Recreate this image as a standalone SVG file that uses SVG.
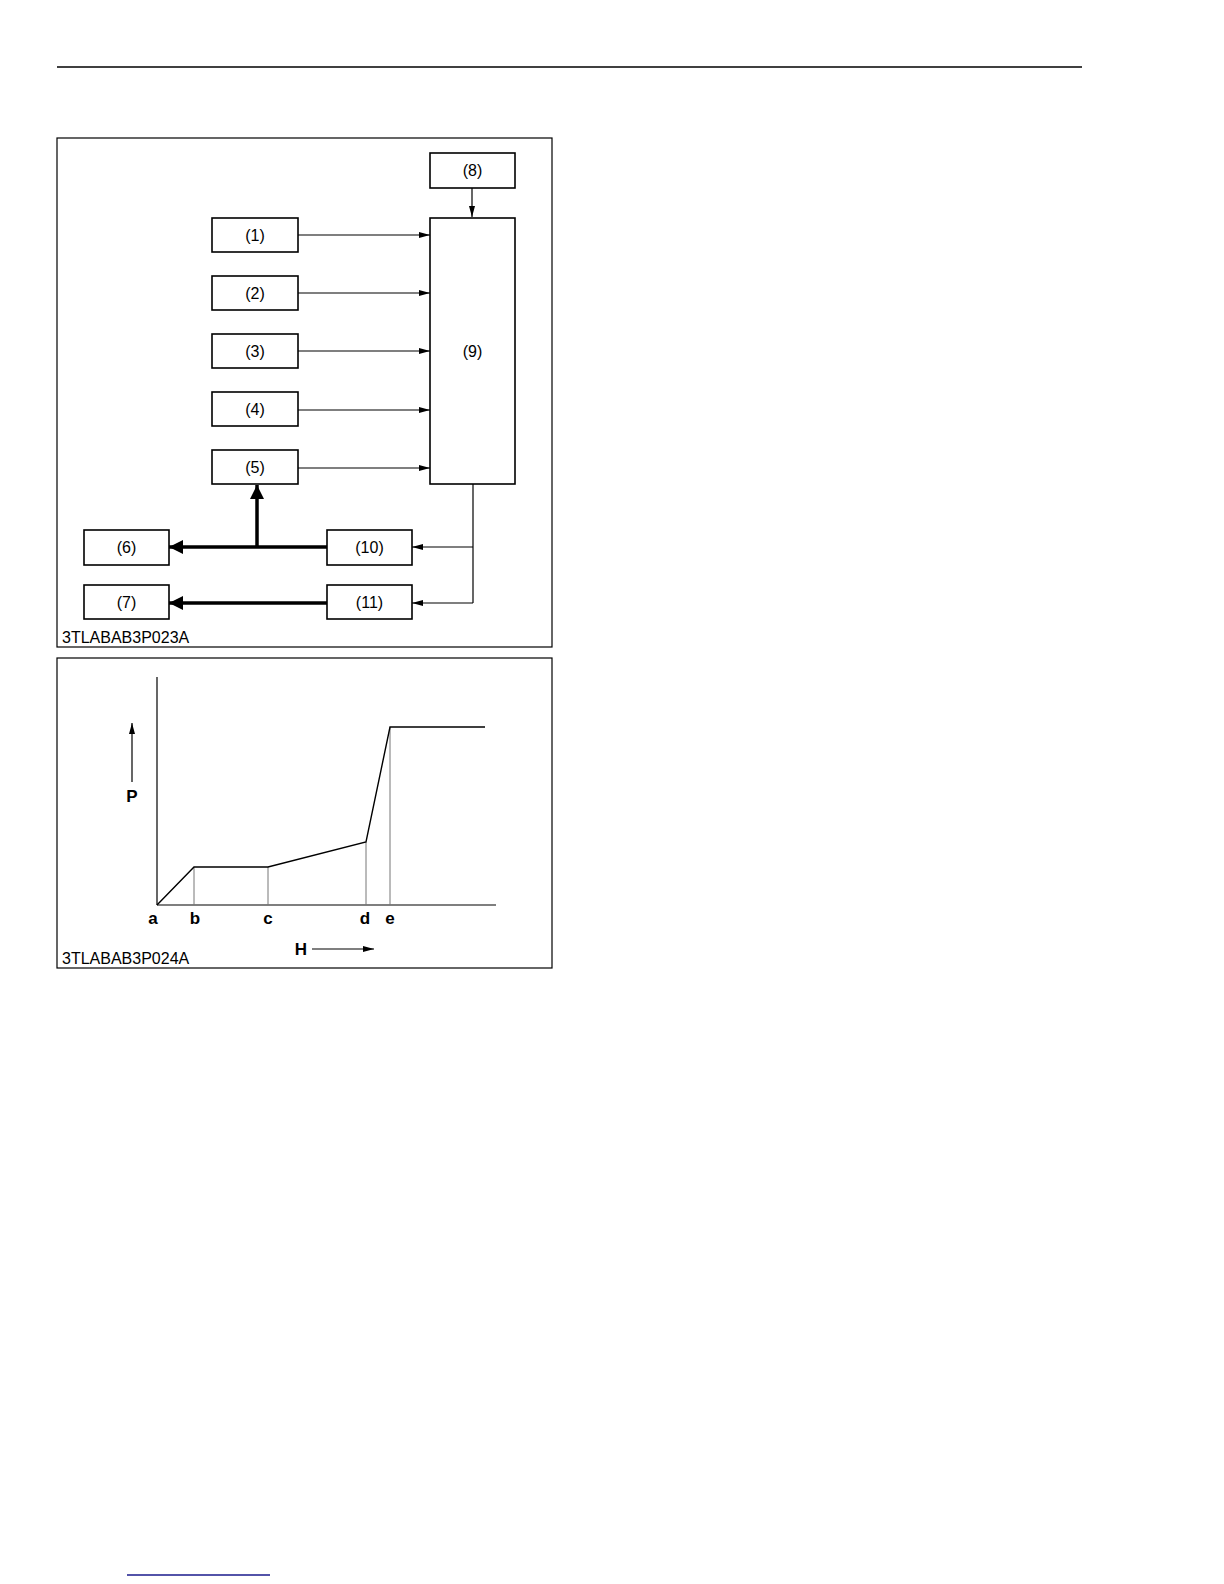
<svg xmlns="http://www.w3.org/2000/svg" width="1224" height="1584" viewBox="0 0 1224 1584">
<defs>
<style>
.box{fill:#fff;stroke:#000;stroke-width:1.6}
.frame{fill:none;stroke:#000;stroke-width:1.2}
.lbl{font-family:"Liberation Sans",Arial,sans-serif;font-size:16px;text-anchor:middle;fill:#000}
.code{font-family:"Liberation Sans",Arial,sans-serif;font-size:16px;fill:#000}
.ax{font-family:"Liberation Sans",Arial,sans-serif;font-size:17px;font-weight:bold;text-anchor:middle;fill:#000}
.thin{fill:none;stroke:#000;stroke-width:1.2}
.thick{fill:none;stroke:#000;stroke-width:3.5}
.grid{fill:none;stroke:#777;stroke-width:1}
</style>
<marker id="ah" markerWidth="12" markerHeight="8" refX="11" refY="4" orient="auto" markerUnits="userSpaceOnUse">
<path d="M0,1 L11,4 L0,7 Z" fill="#000"/>
</marker>
<marker id="ahb" markerWidth="15" markerHeight="16" refX="14" refY="8" orient="auto" markerUnits="userSpaceOnUse">
<path d="M0,1 L14,8 L0,15 Z" fill="#000"/>
</marker>
</defs>
<rect width="1224" height="1584" fill="#fff"/>
<line x1="57" y1="67" x2="1082" y2="67" stroke="#000" stroke-width="1.5"/>
<line x1="127" y1="1575" x2="270" y2="1575" stroke="#1a1a8c" stroke-width="1.5"/>

<rect class="frame" x="57" y="138" width="495" height="509"/>
<rect class="frame" x="57" y="658" width="495" height="310"/>

<g id="connectors">
<line class="thin" x1="472" y1="188" x2="472" y2="217" marker-end="url(#ah)"/>
<line class="thin" x1="298" y1="235" x2="430" y2="235" marker-end="url(#ah)"/>
<line class="thin" x1="298" y1="293" x2="430" y2="293" marker-end="url(#ah)"/>
<line class="thin" x1="298" y1="351" x2="430" y2="351" marker-end="url(#ah)"/>
<line class="thin" x1="298" y1="410" x2="430" y2="410" marker-end="url(#ah)"/>
<line class="thin" x1="298" y1="468" x2="430" y2="468" marker-end="url(#ah)"/>
<polyline class="thin" points="473,484 473,603"/>
<line class="thin" x1="473" y1="547" x2="412" y2="547" marker-end="url(#ah)"/>
<line class="thin" x1="473" y1="603" x2="412" y2="603" marker-end="url(#ah)"/>
<line class="thick" x1="327" y1="547" x2="169" y2="547" marker-end="url(#ahb)"/>
<line class="thick" x1="257" y1="547" x2="257" y2="485" marker-end="url(#ahb)"/>
<line class="thick" x1="327" y1="603" x2="169" y2="603" marker-end="url(#ahb)"/>
</g>

<g id="n8"><rect class="box" x="430" y="153" width="85" height="35"/><text class="lbl" x="472.5" y="176">(8)</text></g>
<g id="n9"><rect class="box" x="430" y="218" width="85" height="266"/><text class="lbl" x="472.5" y="357">(9)</text></g>
<g id="n1"><rect class="box" x="212" y="218" width="86" height="34"/><text class="lbl" x="255" y="241">(1)</text></g>
<g id="n2"><rect class="box" x="212" y="276" width="86" height="34"/><text class="lbl" x="255" y="299">(2)</text></g>
<g id="n3"><rect class="box" x="212" y="334" width="86" height="34"/><text class="lbl" x="255" y="357">(3)</text></g>
<g id="n4"><rect class="box" x="212" y="392" width="86" height="34"/><text class="lbl" x="255" y="415">(4)</text></g>
<g id="n5"><rect class="box" x="212" y="450" width="86" height="34"/><text class="lbl" x="255" y="473">(5)</text></g>
<g id="n6"><rect class="box" x="84" y="530" width="85" height="35"/><text class="lbl" x="126.5" y="553">(6)</text></g>
<g id="n7"><rect class="box" x="84" y="585" width="85" height="34"/><text class="lbl" x="126.5" y="608">(7)</text></g>
<g id="n10"><rect class="box" x="327" y="530" width="85" height="35"/><text class="lbl" x="369.5" y="553">(10)</text></g>
<g id="n11"><rect class="box" x="327" y="585" width="85" height="34"/><text class="lbl" x="369.5" y="608">(11)</text></g>
<text class="code" x="62" y="643">3TLABAB3P023A</text>

<g id="chart">
<line x1="157" y1="677" x2="157" y2="905" stroke="#000" stroke-width="1.2"/>
<line x1="157" y1="905" x2="496" y2="905" stroke="#555" stroke-width="1.6"/>
<line class="grid" x1="194" y1="867" x2="194" y2="905"/>
<line class="grid" x1="268" y1="867" x2="268" y2="905"/>
<line class="grid" x1="366" y1="842" x2="366" y2="905"/>
<line class="grid" x1="390" y1="727" x2="390" y2="905"/>
<polyline fill="none" stroke="#000" stroke-width="1.4" points="157,905 194,867 268,867 366,842 390,727 485,727"/>
<line class="thin" x1="132" y1="782" x2="132" y2="723" marker-end="url(#ah)"/>
<text class="ax" x="132" y="802">P</text>
<text class="ax" x="153" y="924">a</text>
<text class="ax" x="195" y="924">b</text>
<text class="ax" x="268" y="924">c</text>
<text class="ax" x="365" y="924">d</text>
<text class="ax" x="390" y="924">e</text>
<text class="ax" x="301" y="955">H</text>
<line class="thin" x1="312" y1="949" x2="374" y2="949" marker-end="url(#ah)"/>
</g>
<text class="code" x="62" y="964">3TLABAB3P024A</text>
</svg>
